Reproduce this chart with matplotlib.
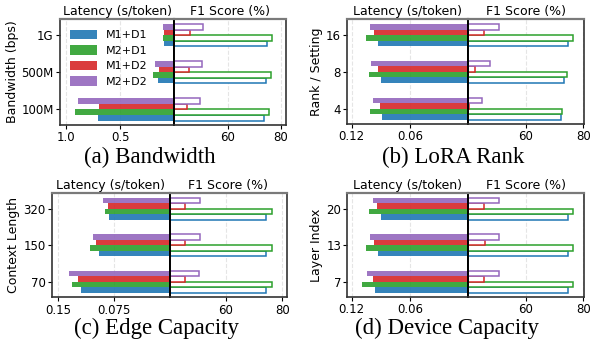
import numpy as np
import matplotlib.pyplot as plt

W, H = 597, 347

series = ["M1+D1", "M2+D1", "M1+D2", "M2+D2"]
colors = ["#1f77b4", "#2ca02c", "#d62728", "#9467bd"]

# (a) bandwidth
bw_labels = ["100M", "500M", "1G"]
bw_latency = [[0.71, 0.151, 0.095], [0.92, 0.197, 0.105],
              [0.70, 0.142, 0.095], [0.89, 0.179, 0.107]]
bw_f1 = [[73.5, 74.3, 74.6], [75.4, 76.1, 76.5],
         [44.9, 45.4, 45.8], [49.6, 50.5, 50.9]]

# (b) lora rank
rank_labels = ["4", "8", "16"]
rank_latency = [[0.089, 0.090, 0.093], [0.101, 0.102, 0.105],
                [0.091, 0.093, 0.097], [0.098, 0.100, 0.101]]
rank_f1 = [[72.1, 73.4, 74.8], [72.5, 74.4, 76.5],
           [40.3, 42.4, 45.6], [44.9, 47.4, 50.8]]

# (c) edge capacity
ctx_labels = ["70", "150", "320"]
ctx_latency = [[0.119, 0.095, 0.082], [0.132, 0.107, 0.087],
               [0.124, 0.099, 0.083], [0.136, 0.103, 0.090]]
ctx_f1 = [[74.3, 74.4, 74.3], [76.2, 76.3, 76.4],
          [45.6, 45.6, 45.4], [50.5, 50.6, 50.6]]

# (d) device capacity
layer_labels = ["7", "13", "20"]
layer_latency = [[0.096, 0.093, 0.090], [0.109, 0.105, 0.102],
                 [0.098, 0.097, 0.094], [0.104, 0.101, 0.098]]
layer_f1 = [[74.7, 74.8, 74.8], [76.3, 76.5, 76.5],
            [45.6, 45.9, 45.6], [50.8, 50.8, 50.8]]

fig = plt.figure(figsize=(W / 100, H / 100), dpi=100)


def px_axes(x0, x1, y0, y1):
    return fig.add_axes([x0 / W, 1 - y1 / H, (x1 - x0) / W, (y1 - y0) / H])


def style_spines(ax, inner):
    for name, sp in ax.spines.items():
        if name == inner:
            sp.set_color("black")
            sp.set_linewidth(1.4)
        elif name == "top":
            sp.set_color("#7a7a7a")
            sp.set_linewidth(1.6)
        else:
            sp.set_color("#333333")
            sp.set_linewidth(1.2)


def draw_panel(box, labels, latency, f1, lat_max, lat_ticks, f1_max,
               ylabel, legend=False):
    x0, xc, x1, y0, y1 = box
    axl = px_axes(x0, xc, y0, y1)
    axr = px_axes(xc, x1, y0, y1)
    y = np.arange(len(labels))
    h = 0.15
    for i, name in enumerate(series):
        off = (i - 1.5) * h
        axl.barh(y + off, latency[i], height=h, color=colors[i], alpha=0.9,
                 label=name)
        axr.barh(y + off, np.array(f1[i]) - 40, left=40, height=h,
                 facecolor="white", edgecolor=colors[i], linewidth=1.1)

    axl.set_xlim(lat_max, 0)
    axl.set_xticks(lat_ticks)
    axl.set_xticklabels([str(t) for t in lat_ticks])
    axr.set_xlim(40, f1_max)
    axr.set_xticks([60, 80])
    for ax in (axl, axr):
        ax.set_ylim(-0.42, 2.44)
        ax.grid(axis="x", linestyle="--", color="#d5d5d5", alpha=0.6,
                linewidth=0.8)
        ax.set_axisbelow(True)
        ax.tick_params(labelsize=8.5, length=3, pad=1.5)
    axl.set_yticks(y)
    axl.set_yticklabels(labels)
    axr.set_yticks([])
    style_spines(axl, "right")
    style_spines(axr, "left")
    axl.set_title("Latency (s/token)", fontsize=9, pad=3)
    axr.set_title("F1 Score (%)", fontsize=9, pad=3)
    axl.set_ylabel(ylabel, fontsize=9, labelpad=2)
    if legend:
        axl.legend(loc="upper left", frameon=False, fontsize=8,
                   handlelength=2.4, handleheight=0.9, labelspacing=0.45,
                   borderaxespad=0.3, bbox_to_anchor=(0.02, 0.97))
    return axl, axr


draw_panel((60, 174.3, 286, 19, 125), bw_labels, bw_latency, bw_f1,
           1.058, [1.0, 0.5], 81.9, "Bandwidth (bps)", legend=True)
draw_panel((347.3, 468.3, 584, 19, 124), rank_labels, rank_latency, rank_f1,
           0.1245, [0.12, 0.06], 80.2, "Rank / Setting")
draw_panel((51.7, 169.7, 286.7, 192.7, 297.3), ctx_labels, ctx_latency,
           ctx_f1, 0.159, [0.15, 0.075], 81.6, "Context Length")
draw_panel((347.3, 468.3, 584, 192.7, 297), layer_labels, layer_latency,
           layer_f1, 0.1245, [0.12, 0.06], 80.2, "Layer Index")

captions = [("(a) Bandwidth", 150, 157), ("(b) LoRA Rank", 453, 157),
            ("(c) Edge Capacity", 157, 328), ("(d) Device Capacity", 447, 328)]
for text, cx, cy in captions:
    fig.text(cx / W, 1 - cy / H, text, ha="center", va="center",
             fontsize=16.5, family="Liberation Serif")

fig.savefig("out.png", dpi=100)
